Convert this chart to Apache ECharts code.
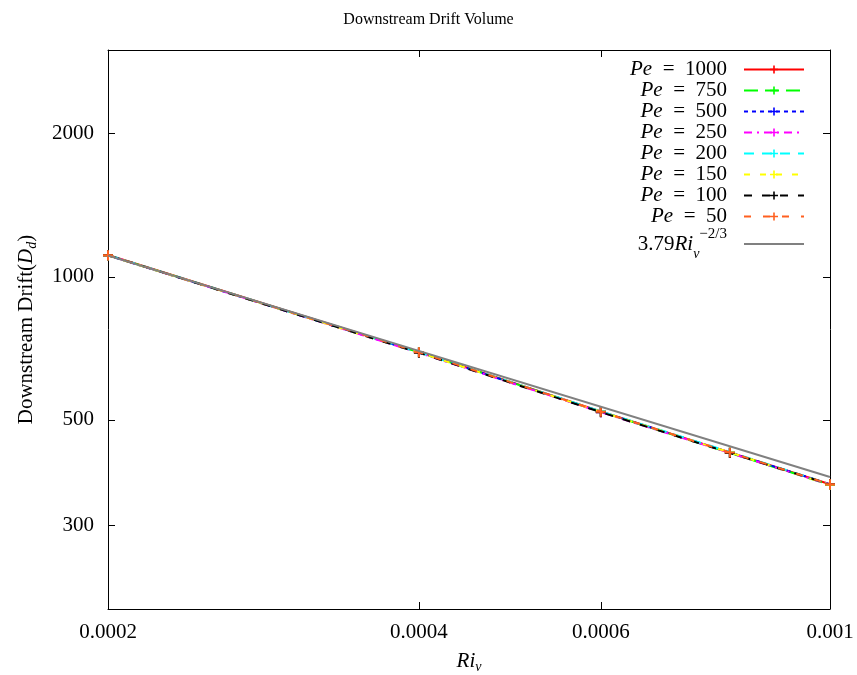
<!DOCTYPE html>
<html>
<head>
<meta charset="utf-8">
<script src="https://cdn.jsdelivr.net/npm/echarts@6/dist/echarts.min.js"></script>
<style>
  html, body { margin: 0; padding: 0; background: #fff; }
  #chart { width: 857px; height: 675px; }
</style>
</head>
<body>
<div id="chart"></div>
<script>
// Ri_v sample points
var riValues = [0.0002, 0.0004, 0.0006, 0.0008, 0.001];

// downstream drift for each Peclet number
var pe1000 = [1111, 695, 521, 427, 366];
var pe750 = [1110, 694, 520, 426, 365];
var pe500 = [1109, 693, 520, 427, 366];
var pe250 = [1110, 692, 519, 426, 365];
var pe200 = [1111, 694, 521, 428, 366];
var pe150 = [1109, 693, 520, 427, 365];
var pe100 = [1110, 692, 519, 426, 366];
var pe50 = [1110, 694, 520, 427, 366];

var peNames = ['1000', '750', '500', '250', '200', '150', '100', '50'];
var peData = [pe1000, pe750, pe500, pe250, pe200, pe150, pe100, pe50];

// 3.79 Ri^-2/3 fit, two ends of the straight line
var fitRi = [0.0002, 0.001];
var fitValues = [1108, 379];

var xTicks = [0.0002, 0.0004, 0.0006, 0.001];
var yTicks = [300, 500, 1000, 2000];

var colors = ['#ff0000', '#00ff00', '#0000ff', '#ff00ff', '#00ffff', '#ffff00', '#000000', '#ff6020'];
var dashes = ['solid', [14, 7], [4, 4], [8, 5, 2, 5], [10, 8], [6, 10], [8, 10], [7, 12]];

var FONT = 'Liberation Serif';
var FS = 21;
var plus = 'path://M4,0H6V4H10V6H6V10H4V6H0V4H4Z';

var myChart = echarts.init(document.getElementById('chart'));

var series = peNames.map(function (n, i) {
  return {
    name: 'Pe = ' + n,
    type: 'line',
    data: riValues.map(function (x, j) { return [x, peData[i][j]]; }),
    symbol: plus,
    symbolSize: 10,
    showSymbol: true,
    lineStyle: { color: colors[i], width: 2, type: dashes[i] },
    itemStyle: { color: colors[i] },
    emphasis: { disabled: true },
    z: 2 + i
  };
});
series.push({
  name: 'fit',
  type: 'line',
  data: fitRi.map(function (x, j) { return [x, fitValues[j]]; }),
  symbol: 'circle',
  symbolSize: 0,
  showSymbol: false,
  lineStyle: { color: '#808080', width: 2 },
  itemStyle: { color: '#808080', opacity: 0 },
  emphasis: { disabled: true },
  z: 12
});

var legendRich = {
  i: { fontFamily: FONT, fontStyle: 'italic', fontSize: FS, align: 'right', color: '#000', lineHeight: 21 },
  n: { fontFamily: FONT, fontSize: FS, align: 'right', color: '#000', lineHeight: 21 },
  sub: { fontFamily: FONT, fontStyle: 'italic', fontSize: 14, align: 'right', verticalAlign: 'bottom', color: '#000' },
  sup: { fontFamily: FONT, fontSize: 15, align: 'right', verticalAlign: 'top', color: '#000', lineHeight: 34 },
  g: { width: 12, align: 'right' }
};

var axisCommon = {
  axisLine: { show: true, lineStyle: { color: '#000', width: 1 } },
  splitLine: { show: false },
  minorTick: { show: false }
};

var option = {
  animation: false,
  backgroundColor: '#fff',
  title: {
    text: 'Downstream Drift Volume',
    left: 'center',
    top: 7,
    textStyle: { fontFamily: FONT, fontSize: 16, fontWeight: 'normal', color: '#000' }
  },
  grid: { left: 108, right: 27, top: 50, bottom: 66, outerBoundsMode: 'none' },
  legend: {
    orient: 'vertical',
    right: 52,
    top: 59,
    padding: 0,
    align: 'right',
    itemWidth: 60,
    itemHeight: 10,
    itemGap: 0,
    data: series.map(function (s) { return s.name; }),
    formatter: function (name) {
      if (name === 'fit') return '{n|3.79}{i|Ri}{sub|v}{sup|\u22122/3}{g|}';
      return '{i|Pe}{n|\u2002=\u2002' + name.replace('Pe = ', '') + '}{g|}';
    },
    textStyle: { width: 150, rich: legendRich, fontFamily: FONT, fontSize: FS, lineHeight: 21 }
  },
  xAxis: [
    Object.assign({
      type: 'log',
      logBase: 10,
      min: 0.0002,
      max: 0.001,
      position: 'bottom',
      name: '{i|Ri}{s|v}',
      nameLocation: 'middle',
      nameGap: 39,
      nameTextStyle: {
        rich: {
          i: { fontFamily: FONT, fontStyle: 'italic', fontSize: FS, color: '#000' },
          s: { fontFamily: FONT, fontStyle: 'italic', fontSize: 14, color: '#000', verticalAlign: 'bottom', lineHeight: 26 }
        }
      },
      axisTick: { show: true, inside: true, length: 7, customValues: xTicks, lineStyle: { color: '#000' } },
      axisLabel: {
        customValues: xTicks,
        margin: 13,
        fontFamily: FONT,
        fontSize: FS,
        color: '#000',
        formatter: function (v) { return String(+Number(v).toPrecision(3)); }
      }
    }, axisCommon),
    Object.assign({
      type: 'log',
      logBase: 10,
      min: 0.0002,
      max: 0.001,
      position: 'top',
      axisTick: { show: true, inside: true, length: 7, customValues: xTicks, lineStyle: { color: '#000' } },
      axisLabel: { show: false }
    }, axisCommon)
  ],
  yAxis: [
    Object.assign({
      type: 'log',
      logBase: 10,
      min: 200,
      max: 3000,
      position: 'left',
      name: '{n|Downstream Drift(}{i|D}{s|d}{n|)}',
      nameLocation: 'middle',
      nameGap: 69,
      nameRotate: 90,
      nameTextStyle: {
        rich: {
          n: { fontFamily: FONT, fontSize: FS, color: '#000' },
          i: { fontFamily: FONT, fontStyle: 'italic', fontSize: FS, color: '#000' },
          s: { fontFamily: FONT, fontStyle: 'italic', fontSize: 14, color: '#000', verticalAlign: 'bottom', lineHeight: 26 }
        }
      },
      axisTick: { show: true, inside: true, length: 7, customValues: yTicks, lineStyle: { color: '#000' } },
      axisLabel: {
        customValues: yTicks,
        margin: 14,
        fontFamily: FONT,
        fontSize: FS,
        color: '#000',
        formatter: function (v) { return String(Math.round(v)); }
      }
    }, axisCommon),
    Object.assign({
      type: 'log',
      logBase: 10,
      min: 200,
      max: 3000,
      position: 'right',
      axisTick: { show: true, inside: true, length: 7, customValues: yTicks, lineStyle: { color: '#000' } },
      axisLabel: { show: false }
    }, axisCommon)
  ],
  series: series
};

myChart.setOption(option);
</script>
</body>
</html>
